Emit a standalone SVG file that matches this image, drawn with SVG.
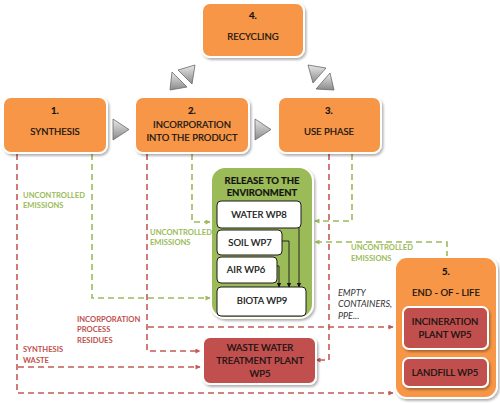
<svg xmlns="http://www.w3.org/2000/svg" width="500" height="403" viewBox="0 0 500 403">
<defs>
<style>
.node text{font-family:Lato,"Liberation Sans",sans-serif;font-size:9.5px;fill:#111;stroke:#111;stroke-width:0.2;text-anchor:middle}
.orange{fill:#F79646;stroke:#ffffff;stroke-width:2;filter:url(#sh)}
.redbox{fill:#C0504D;stroke:#ffffff;stroke-width:2;filter:url(#sh)}
.green{fill:#9BBB59;stroke:#ffffff;stroke-width:2;filter:url(#sh)}
.white{fill:#ffffff;stroke:#1a1a1a;stroke-width:1}
.b{font-weight:bold}
.tri{fill:url(#gg);stroke:#6a6a6a;stroke-width:0.8}
.rd{fill:none;stroke:#C55A55;stroke-width:1.6;stroke-dasharray:6 4}
.gd{fill:none;stroke:#9BBB59;stroke-width:1.6;stroke-dasharray:6 4}
.bk{fill:none;stroke:#1a1a1a;stroke-width:0.9}
.lbl{font-family:Lato,"Liberation Sans",sans-serif;font-size:7.6px;font-weight:bold}
.lg{fill:#9BBB59}
.lr{fill:#C0504D}
.li{font-family:Lato,"Liberation Sans",sans-serif;font-size:9px;font-style:italic;fill:#333}
</style>
<filter id="sh" x="-10%" y="-10%" width="125%" height="130%">
<feDropShadow dx="1.5" dy="2" stdDeviation="1.2" flood-color="#000" flood-opacity="0.3"/>
</filter>
<linearGradient id="gg" x1="0" y1="0" x2="0" y2="1">
<stop offset="0" stop-color="#e8e8e8"/>
<stop offset="1" stop-color="#8a8a8a"/>
</linearGradient>
<marker id="ar" viewBox="0 0 10 10" refX="9" refY="5" markerWidth="6" markerHeight="5" orient="auto" markerUnits="userSpaceOnUse"><path d="M0,0L10,5L0,10z" fill="#C55A55"/></marker>
<marker id="ag" viewBox="0 0 10 10" refX="9" refY="5" markerWidth="6" markerHeight="5" orient="auto" markerUnits="userSpaceOnUse"><path d="M0,0L10,5L0,10z" fill="#9BBB59"/></marker>
<marker id="ab" viewBox="0 0 10 10" refX="9" refY="5" markerWidth="5" markerHeight="5" orient="auto" markerUnits="userSpaceOnUse"><path d="M0,0L10,5L0,10z" fill="#1a1a1a"/></marker>
</defs>

<g id="connectors">
<path class="rd" d="M17,154 V393 H393" marker-end="url(#ar)"/>
<path class="rd" d="M18,367 H200" marker-end="url(#ar)"/>
<path class="rd" d="M147,154 V351 H200" marker-end="url(#ar)"/>
<path class="rd" d="M148,327 H393" marker-end="url(#ar)"/>
<path class="rd" d="M329,154 V360 H316" marker-end="url(#ar)"/>
<path class="gd" d="M92,154 V298 H210" marker-end="url(#ag)"/>
<path class="gd" d="M192,154 V222 H210" marker-end="url(#ag)"/>
<path class="gd" d="M352,154 V221 H315" marker-end="url(#ag)"/>
<path class="gd" d="M447,257 V242 H315" marker-end="url(#ag)"/>
<polygon class="tri" points="113,119 129,129.5 113,140"/>
<polygon class="tri" points="255,119 271,129.5 255,140"/>
<polygon class="tri" points="178,70 195,65 192,84"/>
<polygon class="tri" points="172,72 187,87 170,90"/>
<polygon class="tri" points="308,65 326,68 313,83"/>
<polygon class="tri" points="330,73 334,90 316,89"/>
</g>

<g id="node4" class="node">
<rect class="orange" x="202" y="3" width="102" height="54" rx="8"/>
<text class="b" x="253" y="19">4.</text>
<text x="253" y="40">RECYCLING</text>
</g>
<g id="node1" class="node">
<rect class="orange" x="3" y="97" width="104" height="56" rx="8"/>
<text class="b" x="55" y="114">1.</text>
<text x="55" y="135">SYNTHESIS</text>
</g>
<g id="node2" class="node">
<rect class="orange" x="135" y="97" width="114" height="56" rx="8"/>
<text class="b" x="192" y="114">2.</text>
<text x="192" y="128">INCORPORATION</text>
<text x="192" y="141">INTO THE PRODUCT</text>
</g>
<g id="node3" class="node">
<rect class="orange" x="278" y="97" width="103" height="56" rx="8"/>
<text class="b" x="329" y="114">3.</text>
<text x="329" y="135">USE PHASE</text>
</g>

<g id="env" class="node">
<rect class="green" x="211" y="167" width="102" height="151" rx="14"/>
<text class="b" x="262" y="184">RELEASE TO THE</text>
<text class="b" x="262" y="196">ENVIRONMENT</text>
</g>
<g id="water" class="node">
<rect class="white" x="217" y="201" width="84" height="27" rx="4"/>
<text x="259" y="218">WATER WP8</text>
</g>
<g id="soil" class="node">
<rect class="white" x="217" y="230" width="65" height="25" rx="4"/>
<text x="250" y="246">SOIL WP7</text>
</g>
<g id="air" class="node">
<rect class="white" x="217" y="257" width="60" height="26" rx="4"/>
<text x="246" y="273">AIR WP6</text>
</g>
<g id="biota" class="node">
<rect class="white" x="217" y="287" width="89" height="29" rx="4"/>
<text x="262" y="304">BIOTA WP9</text>
</g>
<g id="inner-arrows">
<path class="bk" d="M299,228 V287" marker-end="url(#ab)"/>
<path class="bk" d="M282,241 H289 V287" marker-end="url(#ab)"/>
<path class="bk" d="M277,266 H279 V287" marker-end="url(#ab)"/>
</g>

<g id="wwtp" class="node">
<rect class="redbox" x="203" y="337" width="113" height="47" rx="7"/>
<text x="260" y="351">WASTE WATER</text>
<text x="260" y="364">TREATMENT PLANT</text>
<text x="260" y="377">WP5</text>
</g>

<g id="eol" class="node">
<rect class="orange" x="395" y="257" width="102" height="141" rx="12"/>
<text class="b" x="446" y="275">5.</text>
<text x="446" y="296">END - OF - LIFE</text>
</g>
<g id="incineration" class="node">
<rect class="redbox" x="403" y="307" width="85" height="42" rx="6"/>
<text x="445" y="325">INCINERATION</text>
<text x="445" y="338">PLANT WP5</text>
</g>
<g id="landfill" class="node">
<rect class="redbox" x="403" y="358" width="85" height="29" rx="6"/>
<text x="445" y="376">LANDFILL WP5</text>
</g>

<g id="labels">
<text class="lbl lg" x="23" y="198">UNCONTROLLED</text>
<text class="lbl lg" x="23" y="208">EMISSIONS</text>
<text class="lbl lg" x="150" y="235">UNCONTROLLED</text>
<text class="lbl lg" x="150" y="245">EMISSIONS</text>
<text class="lbl lg" x="351" y="250">UNCONTROLLED</text>
<text class="lbl lg" x="351" y="261">EMISSIONS</text>
<text class="lbl lr" x="77" y="322">INCORPORATION</text>
<text class="lbl lr" x="77" y="332">PROCESS</text>
<text class="lbl lr" x="77" y="343">RESIDUES</text>
<text class="lbl lr" x="23" y="352">SYNTHESIS</text>
<text class="lbl lr" x="23" y="363">WASTE</text>
<text class="li" x="338" y="296">EMPTY</text>
<text class="li" x="338" y="307">CONTAINERS,</text>
<text class="li" x="338" y="319">PPE...</text>
</g>
</svg>
